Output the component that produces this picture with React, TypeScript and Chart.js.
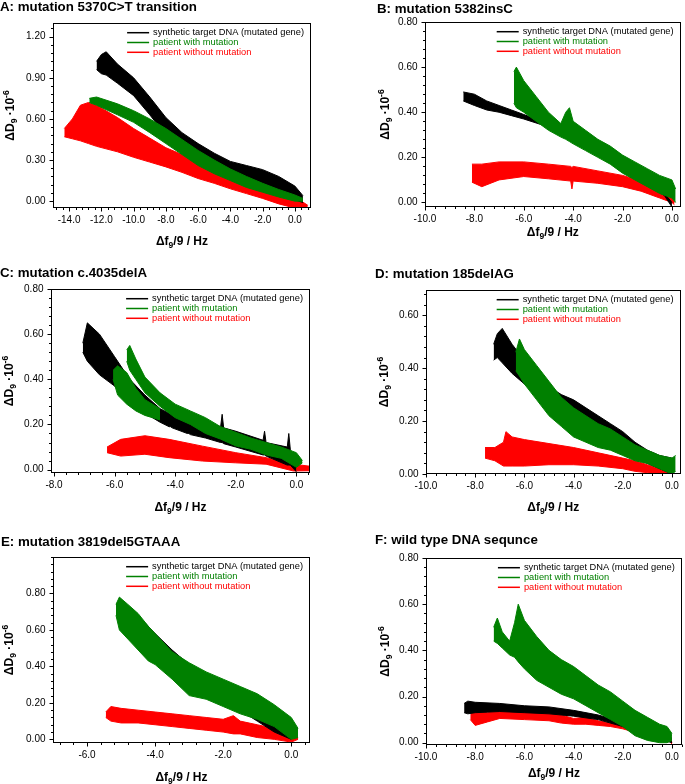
import React, { useEffect, useRef } from "react";
import { Chart, registerables } from "chart.js";

Chart.register(...registerables);

const FONT = "'Liberation Sans', Arial, Helvetica, sans-serif";

type Pt = [number, number, number]; // [x, upper edge, lower edge]

// ---- series labels / colours ----
const SERIES_LABELS = [
  "synthetic target DNA (mutated gene)",
  "patient with mutation",
  "patient without mutation",
];
const SERIES_COLORS = ["#000000", "#008000", "#ff0000"];

// ---- A: mutation 5370C>T transition ----
const aBlack: Pt[] = [
  [-12.3, 1.02, 0.96], [-12.0, 1.07, 0.93], [-11.7, 1.09, 0.92], [-11.0, 1.0, 0.86],
  [-10.0, 0.9, 0.77], [-9.0, 0.76, 0.63], [-8.0, 0.61, 0.48], [-7.0, 0.5, 0.38],
  [-6.0, 0.42, 0.3], [-5.0, 0.35, 0.24], [-4.0, 0.29, 0.19], [-3.0, 0.26, 0.15],
  [-2.0, 0.23, 0.12], [-1.0, 0.18, 0.07], [0.0, 0.11, 0.01], [0.5, 0.04, -0.01],
];
const aGreen: Pt[] = [
  [-12.75, 0.75, 0.72], [-12.3, 0.76, 0.7], [-11.0, 0.71, 0.63], [-10.0, 0.66, 0.575],
  [-9.0, 0.6, 0.5], [-8.0, 0.53, 0.42], [-7.0, 0.45, 0.34], [-6.0, 0.37, 0.26],
  [-5.0, 0.3, 0.2], [-4.0, 0.235, 0.15], [-3.0, 0.18, 0.1], [-2.0, 0.13, 0.065],
  [-1.0, 0.085, 0.03], [0.0, 0.045, 0.0], [0.5, 0.02, 0.0],
];
const aRed: Pt[] = [
  [-14.3, 0.53, 0.47], [-13.8, 0.6, 0.455], [-13.3, 0.7, 0.44], [-12.8, 0.72, 0.42],
  [-12.3, 0.7, 0.4], [-11.0, 0.61, 0.36], [-10.0, 0.53, 0.32], [-9.0, 0.46, 0.285],
  [-8.0, 0.39, 0.25], [-7.0, 0.34, 0.21], [-6.0, 0.3, 0.165], [-5.0, 0.25, 0.13],
  [-4.0, 0.2, 0.09], [-3.0, 0.15, 0.055], [-2.0, 0.1, 0.02], [-1.0, 0.06, -0.02],
  [0.0, 0.03, -0.05], [0.8, -0.03, -0.06],
];
const aXTicks = [-14, -12, -10, -8, -6, -4, -2, 0];
const aYTicks = [0, 0.3, 0.6, 0.9, 1.2];

// ---- B: mutation 5382insC ----
const bBlack: Pt[] = [
  [-8.45, 0.49, 0.45], [-8.0, 0.48, 0.43], [-7.5, 0.45, 0.41], [-7.0, 0.43, 0.4],
  [-6.5, 0.41, 0.385], [-6.0, 0.39, 0.37], [-5.0, 0.35, 0.335], [-4.0, 0.3, 0.29],
  [-3.0, 0.25, 0.24], [-2.0, 0.17, 0.16], [-1.0, 0.09, 0.08], [-0.3, 0.04, 0.03],
  [0.0, 0.0, -0.02],
];
const bGreen: Pt[] = [
  [-6.4, 0.58, 0.44], [-6.3, 0.6, 0.42], [-6.0, 0.54, 0.4], [-5.5, 0.47, 0.36],
  [-5.0, 0.4, 0.32], [-4.5, 0.35, 0.29], [-4.3, 0.4, 0.28], [-4.15, 0.42, 0.27],
  [-4.0, 0.36, 0.26], [-3.5, 0.32, 0.23], [-3.0, 0.28, 0.2], [-2.5, 0.25, 0.17],
  [-2.0, 0.21, 0.13], [-1.5, 0.18, 0.1], [-1.0, 0.15, 0.07], [-0.5, 0.12, 0.04],
  [0.0, 0.1, 0.02], [0.15, 0.06, 0.0],
];
const bRed: Pt[] = [
  [-8.1, 0.17, 0.09], [-7.7, 0.17, 0.07], [-7.0, 0.18, 0.1], [-6.0, 0.18, 0.115],
  [-5.0, 0.17, 0.105], [-4.1, 0.16, 0.095], [-4.05, 0.155, 0.06], [-4.0, 0.16, 0.095],
  [-3.0, 0.14, 0.085], [-2.0, 0.12, 0.07], [-1.25, 0.095, 0.05], [-0.5, 0.06, 0.02],
  [0.0, 0.03, 0.0], [0.1, 0.0, -0.01],
];
const bXTicks = [-10, -8, -6, -4, -2, 0];
const bYTicks = [0, 0.2, 0.4, 0.6, 0.8];

// ---- C: mutation c.4035delA ----
const cBlack: Pt[] = [
  [-7.05, 0.56, 0.52], [-6.9, 0.65, 0.48], [-6.5, 0.6, 0.42], [-6.0, 0.5, 0.37],
  [-5.5, 0.4, 0.3], [-5.0, 0.33, 0.25], [-4.5, 0.27, 0.21], [-4.2, 0.25, 0.19],
  [-4.15, 0.29, 0.19], [-4.1, 0.25, 0.185], [-3.6, 0.23, 0.16], [-3.55, 0.26, 0.16],
  [-3.5, 0.225, 0.155], [-3.0, 0.21, 0.14], [-2.5, 0.19, 0.12], [-2.45, 0.245, 0.12],
  [-2.4, 0.185, 0.115], [-2.0, 0.17, 0.1], [-1.1, 0.13, 0.065], [-1.05, 0.17, 0.065],
  [-1.0, 0.12, 0.06], [-0.3, 0.1, 0.02], [-0.25, 0.16, 0.02], [-0.2, 0.09, 0.02],
  [0.0, 0.03, -0.01],
];
const cGreenLobe: Pt[] = [
  [-6.05, 0.44, 0.4], [-5.9, 0.46, 0.33], [-5.6, 0.43, 0.29], [-5.3, 0.36, 0.26],
  [-5.0, 0.31, 0.24], [-4.5, 0.27, 0.22],
];
const cGreenMain: Pt[] = [
  [-5.6, 0.53, 0.48], [-5.5, 0.55, 0.44], [-5.3, 0.49, 0.4], [-5.0, 0.41, 0.34],
  [-4.5, 0.34, 0.28], [-4.0, 0.29, 0.23], [-3.5, 0.26, 0.2], [-3.0, 0.23, 0.16],
  [-2.5, 0.19, 0.135], [-2.0, 0.165, 0.105], [-1.5, 0.14, 0.09], [-1.0, 0.12, 0.065],
  [-0.5, 0.1, 0.05], [0.0, 0.075, 0.01], [0.2, 0.04, 0.03],
];
const cRed: Pt[] = [
  [-6.25, 0.1, 0.075], [-5.8, 0.134, 0.06], [-5.0, 0.15, 0.068], [-4.2, 0.134, 0.053],
  [-3.1, 0.104, 0.038], [-2.0, 0.075, 0.03], [-1.0, 0.053, 0.024], [-0.1, 0.024, -0.006],
  [0.45, 0.015, -0.005],
];
const cXTicks = [-8, -6, -4, -2, 0];
const cYTicks = [0, 0.2, 0.4, 0.6, 0.8];

// ---- D: mutation 185delAG ----
const dBlack: Pt[] = [
  [-7.25, 0.49, 0.43], [-7.1, 0.53, 0.44], [-6.9, 0.55, 0.42], [-6.5, 0.49, 0.38],
  [-6.0, 0.43, 0.34], [-5.5, 0.37, 0.3], [-5.0, 0.33, 0.27], [-4.5, 0.3, 0.24],
  [-4.0, 0.28, 0.21], [-3.5, 0.25, 0.18], [-3.0, 0.22, 0.15], [-2.5, 0.19, 0.12],
  [-2.0, 0.16, 0.09], [-1.5, 0.12, 0.06], [-1.0, 0.09, 0.04], [-0.5, 0.07, 0.02],
  [0.0, 0.06, 0.0], [0.05, 0.02, 0.0],
];
const dGreen: Pt[] = [
  [-6.35, 0.46, 0.39], [-6.2, 0.51, 0.37], [-6.0, 0.47, 0.34], [-5.5, 0.41, 0.28],
  [-5.0, 0.35, 0.22], [-4.5, 0.29, 0.18], [-4.0, 0.25, 0.14], [-3.5, 0.22, 0.12],
  [-3.0, 0.19, 0.1], [-2.5, 0.17, 0.09], [-2.0, 0.14, 0.07], [-1.5, 0.11, 0.05],
  [-1.0, 0.09, 0.04], [-0.5, 0.07, 0.02], [0.0, 0.06, 0.0], [0.15, 0.07, 0.01],
];
const dRed: Pt[] = [
  [-7.6, 0.1, 0.06], [-7.2, 0.1, 0.05], [-6.85, 0.12, 0.03], [-6.75, 0.16, 0.03],
  [-6.5, 0.14, 0.03], [-6.0, 0.13, 0.03], [-5.0, 0.115, 0.035], [-4.0, 0.1, 0.035],
  [-3.0, 0.08, 0.03], [-2.0, 0.06, 0.02], [-1.5, 0.05, 0.01], [-1.0, 0.035, 0.005],
  [-0.5, 0.02, 0.0], [0.0, 0.01, 0.0],
];
const dXTicks = [-10, -8, -6, -4, -2, 0];
const dYTicks = [0, 0.2, 0.4, 0.6];

// ---- E: mutation 3819del5GTAAA ----
const eBlack: Pt[] = [
  [-4.3, 0.64, 0.58], [-4.0, 0.58, 0.53], [-3.5, 0.49, 0.44], [-3.0, 0.41, 0.36],
  [-2.5, 0.34, 0.3], [-2.0, 0.28, 0.23], [-1.5, 0.22, 0.16], [-1.0, 0.16, 0.1],
  [-0.5, 0.1, 0.04], [0.0, 0.02, 0.0],
];
const eGreen: Pt[] = [
  [-5.15, 0.74, 0.68], [-5.05, 0.78, 0.6], [-4.8, 0.74, 0.55], [-4.5, 0.69, 0.49],
  [-4.2, 0.62, 0.43], [-4.0, 0.58, 0.41], [-3.5, 0.48, 0.33], [-3.0, 0.42, 0.24],
  [-2.5, 0.37, 0.22], [-2.0, 0.33, 0.18], [-1.5, 0.29, 0.14], [-1.0, 0.25, 0.11],
  [-0.5, 0.19, 0.07], [0.0, 0.12, 0.0], [0.2, 0.06, 0.01],
];
const eRed: Pt[] = [
  [-5.45, 0.15, 0.12], [-5.3, 0.18, 0.1], [-5.0, 0.17, 0.09], [-4.5, 0.16, 0.09],
  [-4.0, 0.15, 0.08], [-3.5, 0.14, 0.07], [-3.0, 0.13, 0.06], [-2.5, 0.12, 0.05],
  [-2.0, 0.11, 0.04], [-1.7, 0.13, 0.03], [-1.5, 0.1, 0.03], [-1.0, 0.08, 0.01],
  [-0.5, 0.06, 0.0], [0.0, 0.04, -0.015], [0.2, 0.01, 0.0],
];
const eXTicks = [-6, -4, -2, 0];
const eYTicks = [0, 0.2, 0.4, 0.6, 0.8];

// ---- F: wild type DNA sequnce ----
const fBlack: Pt[] = [
  [-8.45, 0.17, 0.13], [-8.3, 0.18, 0.125], [-8.0, 0.175, 0.13], [-7.0, 0.17, 0.135],
  [-6.0, 0.16, 0.13], [-5.0, 0.155, 0.125], [-4.0, 0.14, 0.115], [-3.0, 0.12, 0.1],
  [-2.0, 0.09, 0.07], [-1.0, 0.05, 0.03], [0.0, 0.02, 0.0],
];
const fGreen: Pt[] = [
  [-7.25, 0.5, 0.44], [-7.1, 0.54, 0.43], [-6.9, 0.48, 0.41], [-6.6, 0.44, 0.38],
  [-6.4, 0.52, 0.37], [-6.25, 0.6, 0.35], [-6.0, 0.53, 0.32], [-5.5, 0.46, 0.27],
  [-5.0, 0.4, 0.24], [-4.5, 0.36, 0.21], [-4.0, 0.33, 0.19], [-3.5, 0.29, 0.16],
  [-3.0, 0.25, 0.13], [-2.5, 0.22, 0.1], [-2.0, 0.18, 0.07], [-1.5, 0.14, 0.03],
  [-1.0, 0.11, 0.01], [-0.5, 0.08, 0.0], [-0.2, 0.07, 0.0], [0.0, 0.04, 0.01],
];
const fRed: Pt[] = [
  [-8.2, 0.13, 0.1], [-8.0, 0.135, 0.075], [-7.5, 0.13, 0.09], [-7.0, 0.15, 0.105],
  [-6.0, 0.15, 0.1], [-5.0, 0.14, 0.095], [-4.5, 0.12, 0.085], [-4.0, 0.105, 0.08],
  [-3.5, 0.11, 0.08], [-3.0, 0.095, 0.075], [-2.5, 0.085, 0.07], [-2.0, 0.075, 0.06],
  [-1.5, 0.06, 0.045], [-1.0, 0.05, 0.035], [-0.5, 0.035, 0.025], [-0.1, 0.03, 0.02],
  [0.0, 0.0, -0.01],
];
const fXTicks = [-10, -8, -6, -4, -2, 0];
const fYTicks = [0, 0.2, 0.4, 0.6, 0.8];

// ---- panel layout (page pixels) ----
interface PanelDef {
  title: string;
  titleX: number;
  titleY: number;
  canvas: [number, number, number, number]; // left, top, width, height
  box: [number, number, number, number]; // left, top, right, bottom of plot area
  xRange: [number, number];
  yRange: [number, number];
  xTicks: number[];
  yTicks: number[];
  black: Pt[][];
  green: Pt[][];
  red: Pt[][];
  xTitleY: number;
  yTitleX: number;
}

const PANELS: PanelDef[] = [
  {
    title: "A: mutation 5370C>T transition", titleX: 0, titleY: 0,
    canvas: [0, 0, 342, 258], box: [53, 23, 311, 208],
    xRange: [-15, 1], yRange: [-0.05, 1.3], xTicks: aXTicks, yTicks: aYTicks,
    black: [aBlack], green: [aGreen], red: [aRed], xTitleY: 241, yTitleX: 10,
  },
  {
    title: "B: mutation 5382insC", titleX: 377, titleY: 2,
    canvas: [342, 0, 343, 258], box: [425, 22, 682, 207],
    xRange: [-10, 0.35], yRange: [-0.02, 0.8], xTicks: bXTicks, yTicks: bYTicks,
    black: [bBlack], green: [bGreen], red: [bRed], xTitleY: 232, yTitleX: 385,
  },
  {
    title: "C: mutation c.4035delA", titleX: 0, titleY: 266,
    canvas: [0, 258, 342, 257], box: [51, 289, 310, 473],
    xRange: [-8.1, 0.45], yRange: [-0.015, 0.8], xTicks: cXTicks, yTicks: cYTicks,
    black: [cBlack], green: [cGreenLobe, cGreenMain], red: [cRed], xTitleY: 507, yTitleX: 8.5,
  },
  {
    title: "D: mutation 185delAG", titleX: 375, titleY: 267,
    canvas: [342, 258, 343, 257], box: [426, 290, 682, 474],
    xRange: [-10, 0.35], yRange: [0, 0.695], xTicks: dXTicks, yTicks: dYTicks,
    black: [dBlack], green: [dGreen], red: [dRed], xTitleY: 507, yTitleX: 384,
  },
  {
    title: "E: mutation 3819del5GTAAA", titleX: 1, titleY: 535,
    canvas: [0, 515, 342, 269], box: [53, 557, 310, 743],
    xRange: [-7, 0.55], yRange: [-0.02, 1.0], xTicks: eXTicks, yTicks: eYTicks,
    black: [eBlack], green: [eGreen], red: [eRed], xTitleY: 777, yTitleX: 8.5,
  },
  {
    title: "F: wild type DNA sequnce", titleX: 375, titleY: 533,
    canvas: [342, 515, 343, 269], box: [426, 558, 683, 745],
    xRange: [-10, 0.4], yRange: [-0.01, 0.8], xTicks: fXTicks, yTicks: fYTicks,
    black: [fBlack], green: [fGreen], red: [fRed], xTitleY: 773, yTitleX: 385,
  },
];

type Seg = { t: string; k?: "sub" | "sup" };
const X_TITLE: Seg[] = [{ t: "\u0394f" }, { t: "9", k: "sub" }, { t: "/9 / Hz" }];
const Y_TITLE: Seg[] = [{ t: "\u0394D" }, { t: "9", k: "sub" }, { t: " \u00B710" }, { t: "-6", k: "sup" }];

function drawRich(ctx: CanvasRenderingContext2D, segs: Seg[], cx: number, cy: number, rotate: boolean) {
  const base = 12;
  const small = 8.5;
  const fontOf = (s: Seg) => `bold ${s.k ? small : base}px ${FONT}`;
  let total = 0;
  const widths = segs.map((s) => {
    ctx.font = fontOf(s);
    const w = ctx.measureText(s.t).width;
    total += w;
    return w;
  });
  ctx.save();
  ctx.translate(cx, cy);
  if (rotate) ctx.rotate(-Math.PI / 2);
  ctx.fillStyle = "#000";
  ctx.textBaseline = "alphabetic";
  ctx.textAlign = "left";
  let x = -total / 2;
  const baseY = 4.3;
  segs.forEach((s, i) => {
    ctx.font = fontOf(s);
    const dy = s.k === "sub" ? 3 : s.k === "sup" ? -5 : 0;
    ctx.fillText(s.t, x, baseY + dy);
    x += widths[i];
  });
  ctx.restore();
}

const decoPlugin = {
  id: "deco",
  afterDatasetsDraw(chart: any) {
    const o = chart.options.plugins.deco;
    if (!o) return;
    const p: PanelDef = o.panel;
    const ctx: CanvasRenderingContext2D = chart.ctx;
    const ca = chart.chartArea;
    const xs = chart.scales.x;
    const ys = chart.scales.y;
    const [cl, ct] = p.canvas;
    ctx.save();
    ctx.strokeStyle = "#000";
    ctx.lineWidth = 1;
    const L = Math.round(ca.left) + 0.5;
    const R = Math.round(ca.right) - 0.5;
    const T = Math.round(ca.top) + 0.5;
    const B = Math.round(ca.bottom) - 0.5;
    ctx.strokeRect(L, T, R - L, B - T);

    // ticks (major + minor), outward on bottom and left
    const tickSet = (ticks: number[], min: number, max: number) => {
      const step = (ticks[1] - ticks[0]) / 5;
      const out: { v: number; major: boolean }[] = [];
      const k0 = Math.ceil(min / step - 1e-6);
      const k1 = Math.floor(max / step + 1e-6);
      for (let k = k0; k <= k1; k++) {
        const v = k * step;
        const major = ticks.some((t) => Math.abs(t - v) < step / 10);
        out.push({ v, major });
      }
      return out;
    };
    ctx.beginPath();
    tickSet(p.xTicks, p.xRange[0], p.xRange[1]).forEach(({ v, major }) => {
      const px = Math.round(xs.getPixelForValue(v)) + 0.5;
      ctx.moveTo(px, B);
      ctx.lineTo(px, B + (major ? 4 : 2.5));
    });
    tickSet(p.yTicks, p.yRange[0], p.yRange[1]).forEach(({ v, major }) => {
      const py = Math.round(ys.getPixelForValue(v)) + 0.5;
      ctx.moveTo(L, py);
      ctx.lineTo(L - (major ? 4 : 2.5), py);
    });
    ctx.stroke();

    // legend inside plot, top right
    ctx.font = `9.3px ${FONT}`;
    const maxW = Math.max(...SERIES_LABELS.map((s) => ctx.measureText(s).width));
    const textX = ca.right - 7 - maxW;
    SERIES_LABELS.forEach((lab, i) => {
      const y = ca.top + 9.7 + i * 9.8;
      ctx.strokeStyle = SERIES_COLORS[i];
      ctx.lineWidth = 1.5;
      ctx.beginPath();
      ctx.moveTo(textX - 26, y);
      ctx.lineTo(textX - 4, y);
      ctx.stroke();
      ctx.fillStyle = SERIES_COLORS[i];
      ctx.textBaseline = "middle";
      ctx.textAlign = "left";
      ctx.fillText(lab, textX, y);
    });

    // axis titles
    drawRich(ctx, X_TITLE, (ca.left + ca.right) / 2, p.xTitleY - ct, false);
    drawRich(ctx, Y_TITLE, p.yTitleX - cl, (ca.top + ca.bottom) / 2, true);
    ctx.restore();
  },
};

function bandDatasets(bands: Pt[][], color: string, order: number) {
  const out: any[] = [];
  bands.forEach((band) => {
    out.push({
      data: band.map((q) => ({ x: q[0], y: q[1] })),
      borderColor: color, backgroundColor: color, borderWidth: 1,
      pointRadius: 0, fill: false, order, tension: 0,
    });
    out.push({
      data: band.map((q) => ({ x: q[0], y: q[2] })),
      borderColor: color, backgroundColor: color, borderWidth: 1,
      pointRadius: 0, fill: "-1", order, tension: 0,
    });
  });
  return out;
}

function makeConfig(p: PanelDef): any {
  const [cl, ct, cw, chh] = p.canvas;
  const [bl, bt, br, bb] = p.box;
  const datasets = [
    ...bandDatasets(p.green, SERIES_COLORS[1], 0),
    ...bandDatasets(p.black, SERIES_COLORS[0], 1),
    ...bandDatasets(p.red, SERIES_COLORS[2], 2),
  ];
  return {
    type: "line",
    data: { datasets },
    plugins: [decoPlugin],
    options: {
      animation: false,
      responsive: false,
      devicePixelRatio: 1,
      events: [],
      layout: { padding: { left: 0, top: bt - ct, right: cl + cw - br, bottom: 0 } },
      plugins: {
        legend: { display: false },
        tooltip: { enabled: false },
        title: { display: false },
        deco: { panel: p },
      },
      scales: {
        x: {
          type: "linear",
          min: p.xRange[0],
          max: p.xRange[1],
          afterBuildTicks: (s: any) => { s.ticks = p.xTicks.map((v) => ({ value: v })); },
          afterFit: (s: any) => { s.height = ct + chh - bb; },
          grid: { display: false, drawTicks: false, tickLength: 0 },
          border: { display: false },
          ticks: {
            autoSkip: false, maxRotation: 0, minRotation: 0, padding: 6,
            color: "#000", font: { family: FONT, size: 10 },
            callback: (v: any) => Number(v).toFixed(1),
          },
        },
        y: {
          type: "linear",
          min: p.yRange[0],
          max: p.yRange[1],
          afterBuildTicks: (s: any) => { s.ticks = p.yTicks.map((v) => ({ value: v })); },
          afterFit: (s: any) => { s.width = bl - cl; },
          grid: { display: false, drawTicks: false, tickLength: 0 },
          border: { display: false },
          ticks: {
            autoSkip: false, padding: 7.5,
            color: "#000", font: { family: FONT, size: 10 },
            callback: (v: any) => Number(v).toFixed(2),
          },
        },
      },
    },
  };
}

export default function App() {
  const refs = useRef<(HTMLCanvasElement | null)[]>([]);
  useEffect(() => {
    const charts = PANELS.map((p, i) => new Chart(refs.current[i] as HTMLCanvasElement, makeConfig(p)));
    return () => charts.forEach((c) => c.destroy());
  }, []);
  return (
    <div style={{ position: "absolute", left: 0, top: 0, width: 685, height: 784, background: "#fff", overflow: "hidden" }}>
      {PANELS.map((p, i) => (
        <canvas
          key={"c" + i}
          ref={(el) => { refs.current[i] = el; }}
          width={p.canvas[2]}
          height={p.canvas[3]}
          style={{ position: "absolute", left: p.canvas[0], top: p.canvas[1], width: p.canvas[2], height: p.canvas[3] }}
        />
      ))}
      {PANELS.map((p, i) => (
        <div
          key={"t" + i}
          style={{
            position: "absolute", left: p.titleX, top: p.titleY, whiteSpace: "nowrap",
            fontFamily: FONT, fontWeight: "bold", fontSize: "13.3px", lineHeight: "13.3px", color: "#000",
          }}
        >
          {p.title}
        </div>
      ))}
    </div>
  );
}
